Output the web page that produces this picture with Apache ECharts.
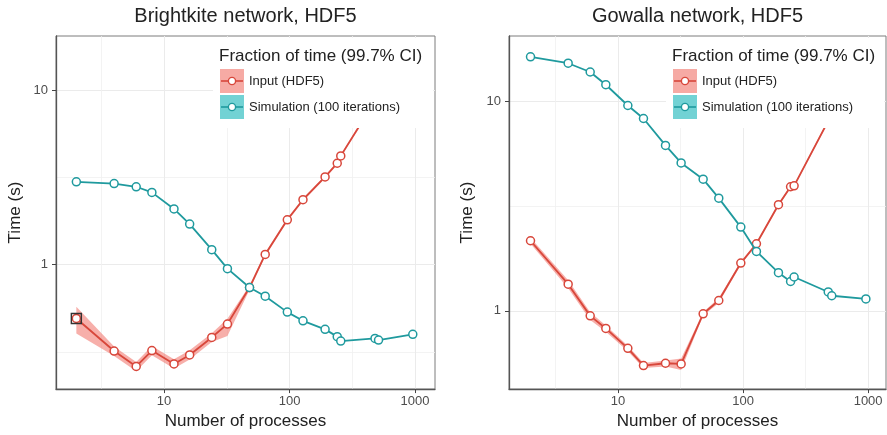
<!DOCTYPE html>
<html>
<head>
<meta charset="utf-8">
<script src="https://cdn.jsdelivr.net/npm/echarts@6/dist/echarts.min.js"></script>
<style>
    html, body { margin: 0; padding: 0; background: #fff; }
    #container { width: 887px; height: 435px; }
</style>
</head>
<body>
<div id="container"></div>
<script type="text/javascript">
    // number of processes (x values, shared by every series)
    var processes = [2, 4, 6, 8, 12, 16, 24, 32, 48, 64, 96, 128, 192, 240, 256, 480, 512, 960];

    // Brightkite network
    var brightInput   = [0.492, 0.32, 0.261, 0.322, 0.27, 0.304, 0.383, 0.457, 0.74, 1.146, 1.81, 2.36, 3.19, 3.82, 4.21, 8.7, 9.3, 17];
    var brightInputLo = [0.404, 0.30, 0.245, 0.303, 0.254, 0.286, 0.36, 0.39, 0.72, 1.12, 1.77, 2.31, 3.13, 3.75, 4.13, 8.5, 9.1, 16.6];
    var brightInputHi = [0.575, 0.34, 0.277, 0.342, 0.287, 0.323, 0.405, 0.49, 0.76, 1.17, 1.85, 2.41, 3.25, 3.89, 4.29, 8.9, 9.5, 17.4];
    var brightSim     = [2.99, 2.92, 2.80, 2.60, 2.09, 1.71, 1.22, 0.95, 0.74, 0.66, 0.535, 0.477, 0.426, 0.387, 0.365, 0.378, 0.370, 0.399];

    // Gowalla network
    var gowallaInput   = [2.16, 1.34, 0.946, 0.824, 0.662, 0.548, 0.562, 0.558, 0.968, 1.12, 1.69, 2.09, 3.21, 3.91, 3.95, 8.07, 8.7, 17.7];
    var gowallaInputLo = [2.09, 1.28, 0.905, 0.795, 0.642, 0.533, 0.543, 0.522, 0.95, 1.09, 1.66, 2.06, 3.16, 3.86, 3.90, 7.9, 8.5, 17.3];
    var gowallaInputHi = [2.23, 1.40, 0.985, 0.852, 0.682, 0.563, 0.58, 0.592, 0.985, 1.15, 1.72, 2.12, 3.26, 3.96, 4.00, 8.2, 8.9, 18.1];
    var gowallaSim     = [16.3, 15.2, 13.8, 12.0, 9.55, 8.28, 6.16, 5.08, 4.25, 3.45, 2.51, 1.92, 1.52, 1.38, 1.45, 1.23, 1.18, 1.14];

    // ticks and grid breaks
    var xTicks = [10, 100, 1000];
    var xMinor = [3.162, 31.62, 316.2];
    var yTicks = [1, 10];
    var yMinorBright = [0.3162, 3.162];
    var yMinorGowalla = [3.162];

    var legendTitle = 'Fraction of time (99.7% CI)';
    var inputName = 'Input (HDF5)';
    var simName = 'Simulation (100 iterations)';

    var RED = '#d8473b', TEAL = '#1f9a9e';
    var RIBBON = 'rgba(240,110,100,0.55)';
    var KEY_RED = '#f6aaa4', KEY_TEAL = '#72d2d4';
    var FONT = '"Liberation Sans", Arial, sans-serif';

    function pairs(xs, ys) {
        return xs.map(function (x, i) { return [x, ys[i]]; });
    }
    function triples(xs, lo, hi) {
        return xs.map(function (x, i) { return [x, lo[i], hi[i]]; });
    }
    function plain(v) { return String(Math.round(v * 1000) / 1000); }

    // one polygon for the whole confidence band
    function ribbonItem(params, api) {
        if (params.dataIndex !== 0) return;
        var n = params.dataInsideLength;
        var lower = [], upper = [];
        for (var i = 0; i < n; i++) {
            lower.push(api.coord([api.value(0, i), api.value(1, i)]));
            upper.push(api.coord([api.value(0, i), api.value(2, i)]));
        }
        return {
            type: 'polygon',
            shape: {points: lower.concat(upper.reverse())},
            style: {fill: RIBBON, stroke: null}
        };
    }

    var panels = [
        {title: 'Brightkite network, HDF5', left: 56, width: 379, xmin: 1.377, xmax: 1443, ymin: 0.1936, ymax: 20.5,
         input: brightInput, lo: brightInputLo, hi: brightInputHi, sim: brightSim, yMinor: yMinorBright,
         legendX: 213, nameGap: 32},
        {title: 'Gowalla network, HDF5', left: 509, width: 377, xmin: 1.346, xmax: 1390, ymin: 0.423, ymax: 20.5,
         input: gowallaInput, lo: gowallaInputLo, hi: gowallaInputHi, sim: gowallaSim, yMinor: yMinorGowalla,
         legendX: 666, nameGap: 33}
    ];

    var option = {
        animation: false,
        backgroundColor: '#fff',
        textStyle: {fontFamily: FONT},
        title: [], grid: [], xAxis: [], yAxis: [], series: [], graphic: []
    };

    panels.forEach(function (p, k) {
        var gTop = 36, gH = 355;
        option.title.push({
            text: p.title, left: p.left + p.width / 2, top: 6, padding: 0, textAlign: 'center',
            textStyle: {fontSize: 20, fontWeight: 'normal', color: '#222', fontFamily: FONT}
        });
        option.grid.push({
            left: p.left, top: gTop, width: p.width, height: gH,
            show: true, borderColor: '#7d7d7d', borderWidth: 1, backgroundColor: '#fff'
        });
        // main axes
        option.xAxis.push({
            type: 'log', logBase: 10, gridIndex: k, min: p.xmin, max: p.xmax,
            name: 'Number of processes', nameLocation: 'middle', nameGap: 22,
            nameTextStyle: {fontSize: 17, color: '#222', fontFamily: FONT},
            axisLine: {show: true, lineStyle: {color: '#555', width: 1.3}},
            axisTick: {show: true, length: 4, customValues: xTicks, lineStyle: {color: '#444'}},
            axisLabel: {customValues: xTicks, formatter: plain, margin: 6, fontSize: 13, color: '#4d4d4d', fontFamily: FONT},
            splitLine: {show: true, lineStyle: {color: '#ebebeb', width: 1}}
        });
        option.yAxis.push({
            type: 'log', logBase: 10, gridIndex: k, min: p.ymin, max: p.ymax,
            name: 'Time (s)', nameLocation: 'middle', nameGap: p.nameGap, nameRotate: 90,
            nameTextStyle: {fontSize: 17, color: '#222', fontFamily: FONT},
            axisLine: {show: true, lineStyle: {color: '#555', width: 1.3}},
            axisTick: {show: true, length: 4, customValues: yTicks, lineStyle: {color: '#444'}},
            axisLabel: {customValues: yTicks, formatter: plain, margin: 8, fontSize: 13, color: '#4d4d4d', fontFamily: FONT},
            splitLine: {show: true, lineStyle: {color: '#ebebeb', width: 1}}
        });
        // hidden axes that only carry the minor grid
        option.xAxis.push({
            type: 'log', logBase: 10, gridIndex: k, min: p.xmin, max: p.xmax, position: 'bottom',
            axisLine: {show: false}, axisLabel: {show: false},
            axisTick: {show: false, customValues: xMinor},
            splitLine: {show: true, lineStyle: {color: '#f0f0f0', width: 0.8}}
        });
        option.yAxis.push({
            type: 'log', logBase: 10, gridIndex: k, min: p.ymin, max: p.ymax, position: 'left',
            axisLine: {show: false}, axisLabel: {show: false},
            axisTick: {show: false, customValues: p.yMinor},
            splitLine: {show: true, lineStyle: {color: '#f0f0f0', width: 0.8}}
        });

        var xi = k * 2, yi = k * 2;
        option.series.push({
            type: 'custom', name: inputName + ' CI', xAxisIndex: xi, yAxisIndex: yi,
            renderItem: ribbonItem, encode: {x: 0, y: [1, 2]},
            data: triples(processes, p.lo, p.hi), silent: true, z: 1
        });
        var inputSeries = {
            type: 'line', name: inputName, xAxisIndex: xi, yAxisIndex: yi,
            data: pairs(processes, p.input), symbol: 'circle', symbolSize: 8, showAllSymbol: true,
            lineStyle: {color: RED, width: 1.8},
            itemStyle: {color: '#fff', borderColor: RED, borderWidth: 1.5}, z: 2
        };
        if (k === 0) {
            inputSeries.markPoint = {
                silent: true, symbol: 'rect', symbolSize: 10, label: {show: false},
                itemStyle: {color: 'rgba(0,0,0,0)', borderColor: '#333', borderWidth: 1.4},
                data: [{coord: [processes[0], p.input[0]]}]
            };
        }
        option.series.push(inputSeries);
        option.series.push({
            type: 'line', name: simName, xAxisIndex: xi, yAxisIndex: yi,
            data: pairs(processes, p.sim), symbol: 'circle', symbolSize: 8, showAllSymbol: true,
            lineStyle: {color: TEAL, width: 1.8},
            itemStyle: {color: '#fff', borderColor: TEAL, borderWidth: 1.5}, z: 3
        });

        // legend drawn inside the panel, ggplot style
        var lx = p.legendX, kx = lx + 7, Z = 100;
        var keys = [
            {name: inputName, line: RED, fill: KEY_RED, y: 69},
            {name: simName, line: TEAL, fill: KEY_TEAL, y: 95}
        ];
        option.graphic.push({type: 'rect', z: Z, silent: true,
            shape: {x: lx, y: 38, width: p.left + p.width - lx - 2, height: 90}, style: {fill: '#fff'}});
        option.graphic.push({type: 'text', z: Z + 1, silent: true, x: lx + 6, y: 56,
            style: {text: legendTitle, font: '17px ' + FONT, fill: '#222', textVerticalAlign: 'middle'}});
        keys.forEach(function (it) {
            var cy = it.y + 12;
            option.graphic.push({type: 'rect', z: Z + 1, silent: true,
                shape: {x: kx, y: it.y, width: 24, height: 24}, style: {fill: it.fill}});
            option.graphic.push({type: 'line', z: Z + 2, silent: true,
                shape: {x1: kx + 1, y1: cy, x2: kx + 23, y2: cy}, style: {stroke: it.line, lineWidth: 1.6}});
            option.graphic.push({type: 'circle', z: Z + 3, silent: true,
                shape: {cx: kx + 12, cy: cy, r: 3.6}, style: {fill: '#fff', stroke: it.line, lineWidth: 1.4}});
            option.graphic.push({type: 'text', z: Z + 1, silent: true, x: kx + 29, y: cy,
                style: {text: it.name, font: '13px ' + FONT, fill: '#222', textVerticalAlign: 'middle'}});
        });
    });

    var myChart = echarts.init(document.getElementById('container'), null, {renderer: 'canvas'});
    myChart.setOption(option);
</script>
</body>
</html>
